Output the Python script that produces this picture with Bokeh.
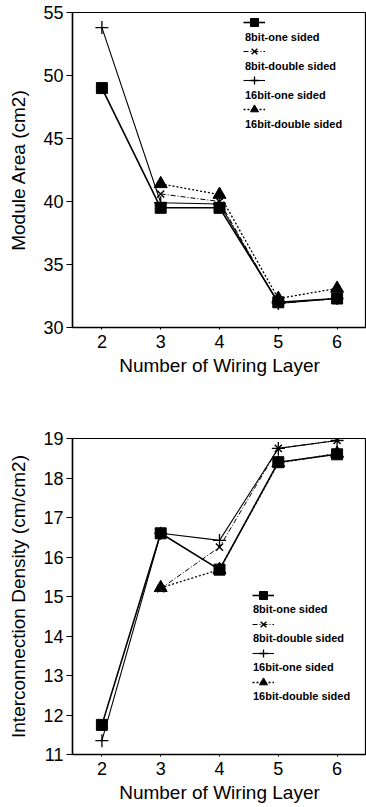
from bokeh.plotting import figure
from bokeh.layouts import column
from bokeh.models import Legend, LegendItem, Range1d, FixedTicker
from bokeh.embed import file_html
from bokeh.resources import INLINE

# ---------------- data ----------------
layers_one = [2, 3, 4, 5, 6]
layers_double = [3, 4, 5, 6]

area_8bit_one = [49.0, 39.5, 39.5, 32.0, 32.3]
area_16bit_one = [53.8, 39.9, 39.8, 31.9, 32.3]
area_8bit_double = [40.6, 40.0, 31.9, 32.3]
area_16bit_double = [41.4, 40.55, 32.3, 33.1]

dens_8bit_one = [11.75, 16.6, 15.68, 18.4, 18.6]
dens_16bit_one = [11.35, 16.6, 16.42, 18.75, 18.95]
dens_8bit_double = [15.2, 16.25, 18.75, 18.95]
dens_16bit_double = [15.22, 15.68, 18.38, 18.62]

series_names = ["8bit-one sided", "8bit-double sided", "16bit-one sided", "16bit-double sided"]
x_ticks = [2, 3, 4, 5, 6]
area_ticks = [30, 35, 40, 45, 50, 55]
dens_ticks = [11, 12, 13, 14, 15, 16, 17, 18, 19]

FONT = "Liberation Sans"


def style(p, yticks, ylabel):
    p.xaxis.ticker = FixedTicker(ticks=x_ticks)
    p.yaxis.ticker = FixedTicker(ticks=yticks)
    p.xaxis.axis_label = "Number of Wiring Layer"
    p.yaxis.axis_label = ylabel
    p.xgrid.visible = False
    p.ygrid.visible = False
    for ax in (p.xaxis[0], p.yaxis[0]):
        ax.axis_line_width = 1.5
        ax.axis_line_color = "black"
        ax.major_tick_line_color = "black"
        ax.minor_tick_line_color = None
        ax.major_tick_in = 0
        ax.major_label_text_font = FONT
        ax.major_label_text_font_size = "18px"
        ax.major_label_text_color = "black"
        ax.axis_label_text_font = FONT
        ax.axis_label_text_font_size = "19px"
        ax.axis_label_text_font_style = "normal"
        ax.axis_label_text_color = "black"
    p.xaxis.major_tick_out = 2
    p.xaxis.major_label_standoff = 5
    p.xaxis.axis_label_standoff = 4
    p.yaxis.major_tick_out = 6
    p.yaxis.major_label_standoff = 3
    p.yaxis.axis_label_standoff = 11
    p.outline_line_color = "black"
    p.outline_line_width = 1.2
    p.background_fill_color = "white"
    p.border_fill_color = "white"


def add_series(p, x1, y1s, x2):
    (y_8o, y_16o, y_8d, y_16d) = y1s
    l1 = p.line(x1, y_8o, line_color="black", line_width=1.6)
    s1 = p.scatter(x1, y_8o, marker="square", size=11, color="black")
    l3 = p.line(x1, y_16o, line_color="black", line_width=1.1)
    s3 = p.scatter(x1, y_16o, marker="cross", size=13, line_color="black", line_width=1.3)
    l2 = p.line(x2, y_8d, line_color="black", line_width=1.0, line_dash="5 2 1 2")
    s2 = p.scatter(x2, y_8d, marker="x", size=10, line_color="black", line_width=1.4)
    l4 = p.line(x2, y_16d, line_color="black", line_width=1.3, line_dash="2 2")
    s4 = p.scatter(x2, y_16d, marker="triangle", size=13, color="black")
    return [(l1, s1), (l2, s2), (l3, s3), (l4, s4)]


def add_legend(p, pairs, glyph_loc, label_loc):
    glyph_items = [LegendItem(label=" ", renderers=[ln, sc]) for (ln, sc) in pairs]
    label_items = [LegendItem(label=name, renderers=[]) for name in series_names]
    common = dict(orientation="vertical", padding=0, margin=0,
                  background_fill_alpha=0, border_line_alpha=0,
                  label_text_font=FONT, label_text_font_size="11px",
                  label_text_font_style="bold", label_text_color="black")
    leg_g = Legend(items=glyph_items, location=glyph_loc, glyph_width=22, glyph_height=20,
                   label_height=20, label_standoff=0, spacing=9, **common)
    leg_l = Legend(items=label_items, location=label_loc, glyph_width=0, glyph_height=14,
                   label_height=14, label_standoff=0, spacing=15, **common)
    p.add_layout(leg_g, "center")
    p.add_layout(leg_l, "center")


# ---------------- top chart ----------------
p1 = figure(width=366, height=400, output_backend="svg", toolbar_location=None,
            x_range=Range1d(1.5, 6.5), y_range=Range1d(30, 55),
            min_border_left=72, min_border_right=0, min_border_top=12, min_border_bottom=73)
style(p1, area_ticks, "Module Area (cm2)")
pairs1 = add_series(p1, layers_one, (area_8bit_one, area_16bit_one, area_8bit_double, area_16bit_double),
                    layers_double)
add_legend(p1, pairs1, (171, 208), (173, 196))

# ---------------- bottom chart ----------------
p2 = figure(width=366, height=407, output_backend="svg", toolbar_location=None,
            x_range=Range1d(1.5, 6.5), y_range=Range1d(11, 19),
            min_border_left=72, min_border_right=0, min_border_top=38, min_border_bottom=53)
style(p2, dens_ticks, "Interconnection Density (cm/cm2)")
pairs2 = add_series(p2, layers_one, (dens_8bit_one, dens_16bit_one, dens_8bit_double, dens_16bit_double),
                    layers_double)
add_legend(p2, pairs2, (180, 62), (181, 51))

layout = column(p1, p2, spacing=0)
open("out.html", "w").write(file_html(layout, INLINE))
